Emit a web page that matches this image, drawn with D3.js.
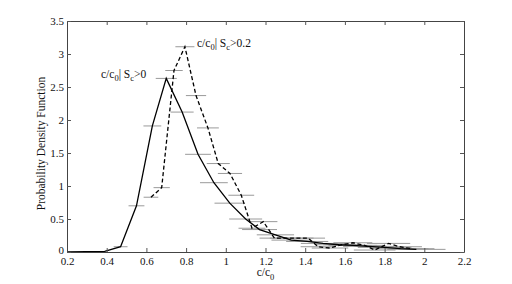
<!DOCTYPE html>
<html><head><meta charset="utf-8">
<script src="https://cdn.jsdelivr.net/npm/d3@7"></script>
<style>body{margin:0;background:#fff}svg{display:block}</style>
</head><body><svg id="c" width="512" height="284"></svg>
<script>
// Series "c/c0 | Sc>0" (solid)
const solidX = [0.2, 0.39, 0.47, 0.55, 0.63, 0.70, 0.78, 0.86, 0.94, 1.02, 1.10, 1.17, 1.25, 1.33, 1.41, 1.49, 1.57, 1.64, 1.72, 1.80, 1.88, 1.96];
const solidY = [0, 0.01, 0.08, 0.70, 1.91, 2.63, 2.12, 1.48, 1.05, 0.74, 0.50, 0.34, 0.26, 0.18, 0.16, 0.13, 0.11, 0.10, 0.085, 0.07, 0.05, 0.04];
const solidErr = [0, 0, 0.035, 0.04, 0.045, 0.053, 0.058, 0.065, 0.07, 0.077, 0.083, 0.088, 0.094, 0.1, 0.106, 0.112, 0.118, 0.123, 0.129, 0.135, 0.141, 0.147];
// Series "c/c0 | Sc>0.2" (dashed)
const dashX = [0.623, 0.677, 0.739, 0.794, 0.850, 0.910, 0.962, 1.021, 1.078, 1.132, 1.189, 1.245, 1.300, 1.360, 1.415, 1.465, 1.525, 1.585, 1.640, 1.700, 1.750, 1.820, 1.875, 1.935];
const dashY = [0.83, 0.975, 2.75, 3.11, 2.37, 1.88, 1.34, 1.19, 0.86, 0.36, 0.46, 0.21, 0.21, 0.21, 0.21, 0.08, 0.06, 0.11, 0.14, 0.10, 0.03, 0.13, 0.08, 0.05];
const dashErr = [0.037, 0.041, 0.044, 0.048, 0.051, 0.055, 0.058, 0.061, 0.065, 0.068, 0.071, 0.075, 0.078, 0.082, 0.085, 0.088, 0.092, 0.095, 0.098, 0.102, 0.105, 0.109, 0.113, 0.116];
const xTicks = [0.2, 0.4, 0.6, 0.8, 1, 1.2, 1.4, 1.6, 1.8, 2, 2.2];
const yTicks = [0, 0.5, 1, 1.5, 2, 2.5, 3, 3.5];

const FONT = "'Liberation Serif', 'Times New Roman', Times, 'DejaVu Serif', serif";
const svg = d3.select("#c");
const L = 67, R = 464, T = 21, B = 252;
const x = d3.scaleLinear().domain([0.2, 2.2]).range([L, R]);
const y = d3.scaleLinear().domain([0, 3.5]).range([B, T]);

// error bars
function bars(xs, ys, es) {
  svg.append("g").selectAll("line").data(xs.map((d, i) => [d, ys[i], es[i]]).filter(d => d[2] > 0))
    .join("line")
    .attr("x1", d => x(d[0] - d[2])).attr("x2", d => x(d[0] + d[2]))
    .attr("y1", d => y(d[1])).attr("y2", d => y(d[1]))
    .attr("stroke", "#9a9a9a").attr("stroke-width", 1);
}
bars(solidX, solidY, solidErr);
bars(dashX, dashY, dashErr);

const line = d3.line().x(d => x(d[0])).y(d => y(d[1]));
svg.append("path").datum(solidX.map((d, i) => [d, solidY[i]]))
  .attr("d", line).attr("fill", "none").attr("stroke", "#000").attr("stroke-width", 1.3);
svg.append("path").datum(dashX.map((d, i) => [d, dashY[i]]))
  .attr("d", line).attr("fill", "none").attr("stroke", "#000").attr("stroke-width", 1.3)
  .attr("stroke-dasharray", "4,2.5");

// axes (inward ticks, box)
const fmt = d => d3.format("")(d);
svg.append("g").attr("transform", `translate(0,${B})`)
  .call(d3.axisBottom(x).tickValues(xTicks).tickSizeInner(-4).tickSizeOuter(0).tickPadding(5).tickFormat(fmt));
svg.append("g").attr("transform", `translate(0,${T})`)
  .call(d3.axisTop(x).tickValues(xTicks).tickSizeInner(-4).tickSizeOuter(0).tickFormat(""));
svg.append("g").attr("transform", `translate(${L},0)`)
  .call(d3.axisLeft(y).tickValues(yTicks).tickSizeInner(-4).tickSizeOuter(0).tickPadding(3).tickFormat(fmt));
svg.append("g").attr("transform", `translate(${R},0)`)
  .call(d3.axisRight(y).tickValues(yTicks).tickSizeInner(-4).tickSizeOuter(0).tickFormat(""));
svg.selectAll(".domain").attr("stroke", "#444");
svg.selectAll(".tick line").attr("stroke", "#555");
svg.selectAll("g").attr("font-family", null);
svg.selectAll(".tick text").style("font-family", FONT).attr("font-size", 11).attr("fill", "#111");
// lift the y-axis "0" slightly so it clears the x-axis "0.2"
svg.selectAll(".tick text").filter(function () { return this.parentNode.parentNode.getAttribute("transform") === `translate(${L},0)` && this.textContent === "0"; })
  .attr("dy", "0.1em");

// labels
svg.append("text").attr("transform", `translate(45,${(T + B) / 2 + 7}) rotate(-90)`)
  .style("font-family", FONT).attr("fill", "#111")
  .attr("text-anchor", "middle").attr("font-size", 11.5).text("Probability Density Function");
const xl = svg.append("text").attr("x", (L + R) / 2).attr("y", 276).attr("text-anchor", "middle")
  .style("font-family", FONT).attr("fill", "#111").attr("font-size", 11.5);
xl.append("tspan").text("c/c");
xl.append("tspan").attr("dy", 4).attr("font-size", 8.5).text("0");

function annot(px, py, tail) {
  const t = svg.append("text").attr("x", px).attr("y", py).attr("font-size", 11.5)
    .style("font-family", FONT).attr("fill", "#111");
  t.append("tspan").text("c/c");
  t.append("tspan").attr("dy", 3).attr("font-size", 8.5).text("0");
  t.append("tspan").attr("dy", -3).text("| S");
  t.append("tspan").attr("dy", 3).attr("font-size", 8.5).text("c");
  t.append("tspan").attr("dy", -3).text(tail);
}
annot(101, 78, ">0");
annot(197, 47, ">0.2");
</script></body></html>
